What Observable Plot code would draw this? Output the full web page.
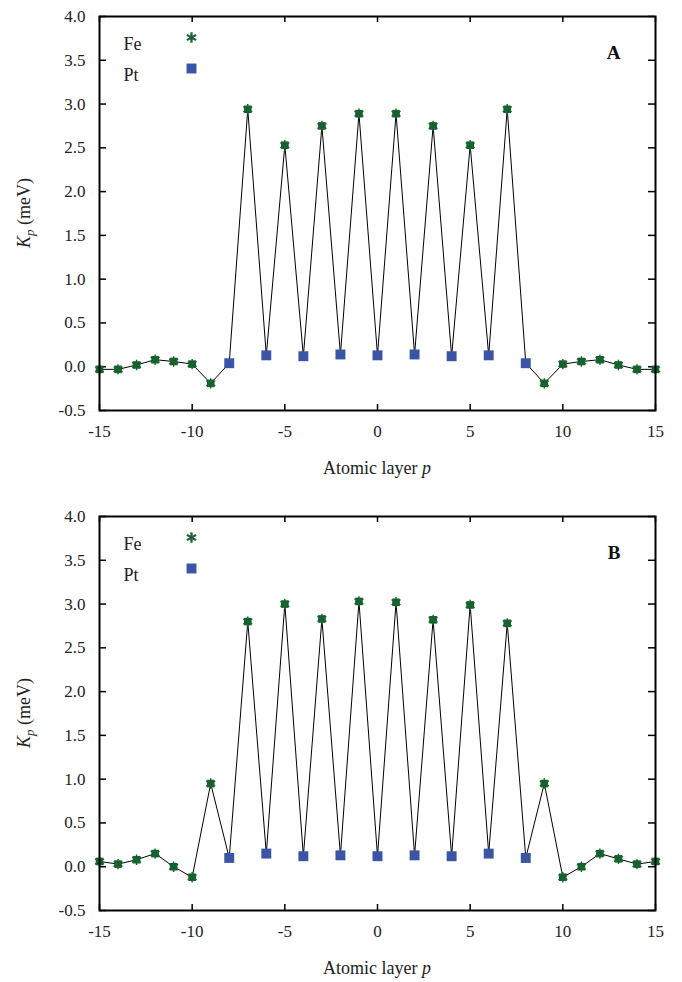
<!DOCTYPE html>
<html>
<head>
<meta charset="utf-8">
<script src="https://cdn.jsdelivr.net/npm/d3@7"></script>
<script src="https://cdn.jsdelivr.net/npm/@observablehq/plot@0.6"></script>
<style>
  html, body { margin: 0; padding: 0; background: #fff; }
  #chart svg { display: block; }
</style>
</head>
<body>
<div id="chart"></div>
<script>
const layers = [-15,-14,-13,-12,-11,-10,-9,-8,-7,-6,-5,-4,-3,-2,-1,0,1,2,3,4,5,6,7,8,9,10,11,12,13,14,15];
const species = ["Fe","Fe","Fe","Fe","Fe","Fe","Fe","Pt","Fe","Pt","Fe","Pt","Fe","Pt","Fe","Pt","Fe","Pt","Fe","Pt","Fe","Pt","Fe","Pt","Fe","Fe","Fe","Fe","Fe","Fe","Fe"];
const kA = [-0.03,-0.03,0.02,0.08,0.06,0.03,-0.19,0.04,2.94,0.13,2.53,0.12,2.75,0.14,2.89,0.13,2.89,0.14,2.75,0.12,2.53,0.13,2.94,0.04,-0.19,0.03,0.06,0.08,0.02,-0.03,-0.03];
const kB = [0.06,0.03,0.08,0.15,0.0,-0.12,0.95,0.10,2.80,0.15,3.00,0.12,2.83,0.13,3.03,0.12,3.02,0.13,2.82,0.12,2.99,0.15,2.78,0.10,0.95,-0.12,0.0,0.15,0.09,0.03,0.06];
const xTicks = [-15,-10,-5,0,5,10,15];
const yTicks = [-0.5,0,0.5,1,1.5,2,2.5,3,3.5,4];
const legendNames = ["Fe","Pt"];
const panels = ["A","B"];

const FE = "#17632f", PT = "#3a55a6";
const W = 682, H = 491;
const font = "Liberation Serif";

function panel(label, values, mt, mb) {
  const data = layers.map((p, i) => ({p, k: values[i], s: species[i]}));
  const fe = data.filter(d => d.s === "Fe");
  const pt = data.filter(d => d.s === "Pt");
  const ml = 99, mr = 27;
  const pw = W - ml - mr, ph = H - mt - mb;
  const svg = Plot.plot({
    width: W, height: H,
    marginLeft: ml, marginRight: mr, marginTop: mt, marginBottom: mb,
    style: {fontFamily: font, fontSize: "17px", color: "#222", background: "#fff", overflow: "visible"},
    x: {domain: [-15, 15]},
    y: {domain: [-0.5, 4]},
    marks: [
      Plot.axisX({ticks: xTicks, tickSize: 0, tickPadding: 14, tickFormat: d => String(d), label: null, fontSize: 17}),
      Plot.axisY({ticks: yTicks, tickSize: 0, tickPadding: 14, tickFormat: d => d.toFixed(1), label: null, fontSize: 17}),
      Plot.tickX(xTicks, {x: d => d, insetTop: ph - 6, stroke: "#000", strokeWidth: 1.5}),
      Plot.tickX(xTicks, {x: d => d, insetBottom: ph - 6, stroke: "#000", strokeWidth: 1.5}),
      Plot.tickY(yTicks, {y: d => d, insetRight: pw - 7, stroke: "#000", strokeWidth: 1.5}),
      Plot.tickY(yTicks, {y: d => d, insetLeft: pw - 7, stroke: "#000", strokeWidth: 1.5}),
      Plot.line(data, {x: "p", y: "k", stroke: "#000", strokeWidth: 1}),
      Plot.dot(fe, {x: "p", y: "k", symbol: "square", r: 4.3, fill: FE}),
      Plot.dot(fe, {x: "p", y: "k", symbol: "asterisk", r: 4.9, stroke: FE, strokeWidth: 1.4}),
      Plot.dot(pt, {x: "p", y: "k", symbol: "square", r: 5.6, fill: PT}),
      Plot.frame({stroke: "#000", strokeWidth: 2}),
      Plot.text([legendNames[0]], {text: d => d, frameAnchor: "top-left", dx: 24, dy: 21, textAnchor: "start", fill: "#222", fontSize: 18, fontFamily: font}),
      Plot.text([legendNames[1]], {text: d => d, frameAnchor: "top-left", dx: 24, dy: 52, textAnchor: "start", fill: "#222", fontSize: 18, fontFamily: font}),
      Plot.dot([legendNames[0]], {frameAnchor: "top-left", dx: 92, dy: 21, symbol: "asterisk", r: 5, stroke: FE, strokeWidth: 2.2}),
      Plot.dot([legendNames[1]], {frameAnchor: "top-left", dx: 92, dy: 52, symbol: "square", r: 5.6, fill: PT}),
      Plot.text([label], {text: d => d, frameAnchor: "top-right", dx: -35, dy: 29, fontWeight: "bold", fill: "#111", fontSize: 19, fontFamily: font})
    ]
  });
  const s = d3.select(svg);
  const xl = s.append("text")
    .attr("x", ml + pw / 2).attr("y", mt + ph + 58)
    .attr("text-anchor", "middle").attr("dy", "0.35em")
    .attr("font-family", font).attr("font-size", 18).attr("fill", "#222");
  xl.append("tspan").text("Atomic layer ");
  xl.append("tspan").attr("font-style", "italic").text("p");
  const yl = s.append("text")
    .attr("transform", `translate(24,${mt + ph / 2}) rotate(-90)`)
    .attr("text-anchor", "middle").attr("dy", "0.35em")
    .attr("font-family", font).attr("font-size", 18).attr("fill", "#222");
  yl.append("tspan").attr("font-style", "italic").text("K");
  yl.append("tspan").attr("font-style", "italic").attr("font-size", 13).attr("dy", 4).text("p");
  yl.append("tspan").attr("dy", -4).text(" (meV)");
  return svg;
}

const root = document.getElementById("chart");
root.appendChild(panel(panels[0], kA, 16, 81));
root.appendChild(panel(panels[1], kB, 25, 72));
</script>
</body>
</html>
